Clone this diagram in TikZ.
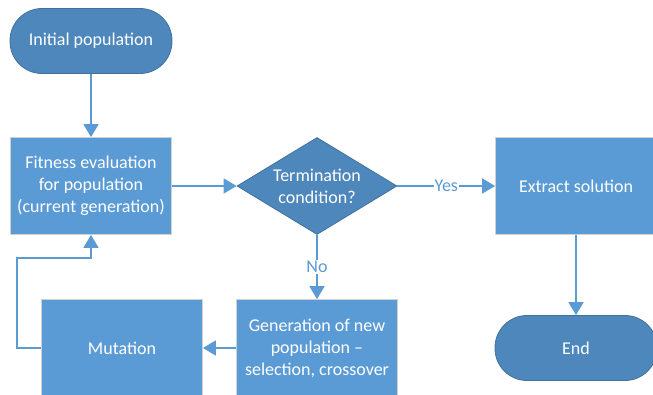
\documentclass[tikz,border=0pt]{standalone}
\usepackage{fontspec}
\setmainfont{Carlito}
\usetikzlibrary{shapes.geometric,arrows.meta}
\definecolor{boxblue}{HTML}{5B9BD5}
\definecolor{termblue}{HTML}{4E87BC}
\definecolor{edgeblue}{HTML}{41719C}

\begin{document}
\begin{tikzpicture}[x=1pt, y=-1pt,
    every node/.style={font=\fontsize{18}{22}\selectfont, text=white, align=center, inner sep=0pt},
    proc/.style={rectangle, fill=boxblue, draw=black!18, line width=0.8pt, minimum width=161pt, minimum height=97pt},
    term/.style={rectangle, rounded corners=32pt, fill=termblue, draw=edgeblue, line width=0.8pt, minimum width=162pt, minimum height=65pt},
    decide/.style={diamond, aspect=1.65, fill=termblue, draw=edgeblue, line width=0.8pt, minimum width=160pt, minimum height=97pt},
    flow/.style={draw=boxblue, line width=1.8pt, -{Triangle[width=15pt,length=13pt]}},
    lbl/.style={fill=white, text=boxblue, inner sep=1pt}]
    \useasboundingbox (0,0) rectangle (653,395);
    % Steps of the loop
    \node[term] (start) at (91,41) {Initial population};
    \node[proc] (fitness) at (91,186) {Fitness evaluation\\for population\\(current generation)};
    \node[decide] (check) at (317,186) {Termination\\condition?};
    \node[proc] (extract) at (576,186) {Extract solution};
    \node[proc] (newgen) at (317,348) {Generation of new\\population --\\selection, crossover};
    \node[proc] (mutate) at (122,348) {Mutation};
    \node[term] (stop) at (576,348) {End};
    % Connectors
    \draw[flow] (start) -- (fitness);
    \draw[flow] (fitness) -- (check);
    \draw[flow] (check) -- node[lbl] {Yes} (extract);
    \draw[flow] (check) -- node[lbl] {No} (newgen);
    \draw[flow] (newgen) -- (mutate);
    \coordinate (bend) at (17,258);
    \draw[flow] (mutate.west) -| (bend) -- (bend -| fitness.south) -- (fitness.south);
    \draw[flow] (extract) -- (stop);
\end{tikzpicture}
\end{document}
